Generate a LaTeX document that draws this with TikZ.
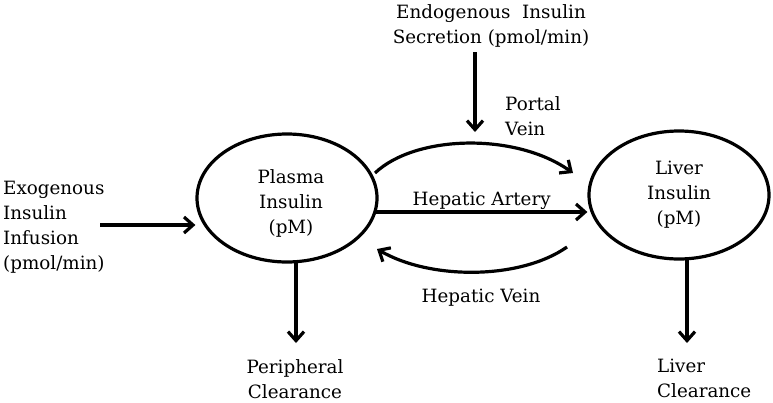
\documentclass[tikz,border=0pt]{standalone}
\usepackage{fontspec}
\setmainfont{DejaVu Serif}
\usetikzlibrary{arrows.meta,shapes.geometric}
\begin{document}
\begin{tikzpicture}[x=1pt,y=-1pt,
  every node/.style={font=\fontsize{18.3}{25}\selectfont, inner sep=0pt},
  comp/.style={draw, line width=3.2pt, ellipse, minimum width=180pt, minimum height=128pt},
  flow/.style={line width=3.2pt, -{Straight Barb[length=9pt,width=16pt,line width=3.2pt]}},
  txt/.style={align=center}]
\useasboundingbox (0,0) rectangle (773,402);
\node[comp] (plasma) at (287,198) {};
\node[txt] (plasmalab) at (291,203) {Plasma\\Insulin\\(pM)};
\node[comp, txt] (liver) at (679,195) {Liver\\Insulin\\(pM)};
\node[align=left, anchor=north west] (exo) at (3,181) {Exogenous\\Insulin\\Infusion\\(pmol/min)};
\node[txt, anchor=north] (endo) at (491,4) {Endogenous\ \ Insulin\\Secretion (pmol/min)};
\node[align=left, anchor=north west] (portal) at (505,96) {Portal\\Vein};
\node[txt, anchor=north] (peri) at (295,359) {Peripheral\\Clearance};
\node[align=left, anchor=north west] (lclr) at (657,359) {Liver\\Clearance};
\node (hvlab) at (481,298) {Hepatic Vein};
\coordinate (exoend) at (100,225);
\coordinate (endostart) at (475,52);
\coordinate (endoend) at (475,132);
\draw[flow] (exoend) -- (plasma.west |- exoend);
\draw[flow] (endostart) -- (endoend);
\coordinate (pvs) at (375,173);
\coordinate (pve) at (573,173);
\draw[flow] (pvs) .. controls (415,135) and (515,132) .. (pve);
\coordinate (has) at (376,212);
\draw[flow] (has) -- node[above=1pt] (halab) {Hepatic Artery} (liver.west |- has);
\coordinate (hvs) at (567,247);
\coordinate (hve) at (377,249);
\draw[flow] (hvs) .. controls (520,280) and (430,280) .. (hve);
\coordinate (pds) at (296,263);
\coordinate (pde) at (296,343);
\draw[flow] (pds) -- (pde);
\coordinate (lds) at (687,259);
\coordinate (lde) at (687,343);
\draw[flow] (lds) -- (lde);
\end{tikzpicture}
\end{document}
